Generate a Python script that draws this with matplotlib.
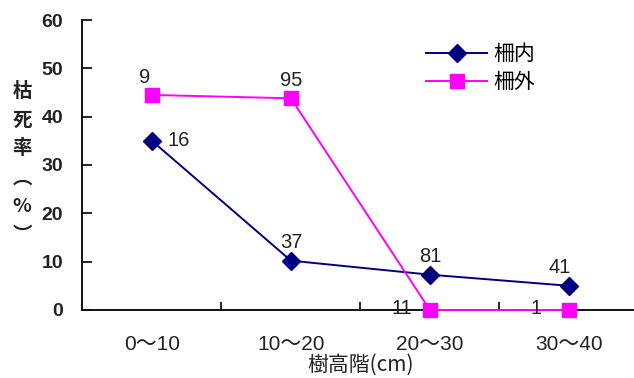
import numpy as np
import matplotlib.pyplot as plt

plt.rcParams['font.family'] = ['Liberation Sans', 'Noto Sans CJK JP', 'DejaVu Sans']

# height classes and mortality (%) inside / outside the fence
classes = ["0～10", "10～20", "20～30", "30～40"]
inside = [35.0, 10.2, 7.3, 5.0]
outside = [44.5, 43.8, 0.0, 0.0]
# sample sizes shown next to each point
inside_n = ["16", "37", "81", "41"]
outside_n = ["9", "95", "11", "1"]

txt = "#222222"
jp = ["Noto Sans CJK JP", "DejaVu Sans"]

fig = plt.figure(figsize=(6.34, 3.78), dpi=100)
ax = fig.add_axes([0.130, 0.180, 0.877, 0.767])

x = np.arange(len(classes))
ax.plot(x, inside, "-D", color="#000080", lw=1.4, ms=9, mec="#000080", label="柵内")
ax.plot(x, outside, "-s", color="#FF00FF", lw=1.4, ms=10, mec="#FF00FF", label="柵外",
        clip_on=False, zorder=3)

# label offsets in points for each point
in_off = [(11, 0), (0, 6), (0, 6), (-7, 6)]
in_ha = ["left", "center", "center", "center"]
out_off = [(-5, 6), (0, 6), (-20, 1), (-24, 1)]
for i in range(len(classes)):
    ax.annotate(inside_n[i], (x[i], inside[i]), xytext=in_off[i], textcoords="offset points",
                ha=in_ha[i], va="center" if in_off[i][1] == 0 else "bottom",
                fontsize=14.5, color=txt)
    ax.annotate(outside_n[i], (x[i], outside[i]), xytext=out_off[i], textcoords="offset points",
                ha="center", va="bottom" if out_off[i][1] > 5 else "center",
                fontsize=14.5, color=txt)

ax.set_xlim(-0.5, 3.5)
ax.set_ylim(0, 60)
ax.set_yticks(range(0, 61, 10))
ax.set_xticks(x)
ax.set_xticklabels(classes)
ax.set_xticks(np.arange(0.5, 3.5, 1), minor=True)
ax.tick_params(axis="x", which="major", length=0, pad=18, labelsize=15, labelcolor=txt)
ax.tick_params(axis="x", which="minor", direction="in", length=6, width=1.2)
ax.tick_params(axis="y", direction="in", length=7, width=1.2, pad=14, labelsize=14,
               labelcolor=txt)
for lab in ax.get_yticklabels():
    lab.set_fontweight("bold")

for s in ("top", "right"):
    ax.spines[s].set_visible(False)
for s in ("left", "bottom"):
    ax.spines[s].set_linewidth(1.4)
    ax.spines[s].set_color("#111111")

ax.set_xlabel("樹高階(cm)", fontsize=15, color=txt, labelpad=0, family=jp)
fig.text(0.035, 0.568, "枯\n死\n率\n︵\n%\n︶", fontsize=14, color=txt, ha="center",
         va="center", linespacing=1.65, family=jp, fontweight="bold")

ax.legend(loc="upper left", bbox_to_anchor=(0.585, 0.985), frameon=False,
          handlelength=2.9, labelspacing=0.3, handletextpad=0.3,
          prop={"family": jp, "size": 15})

fig.savefig("out.png", dpi=100)
